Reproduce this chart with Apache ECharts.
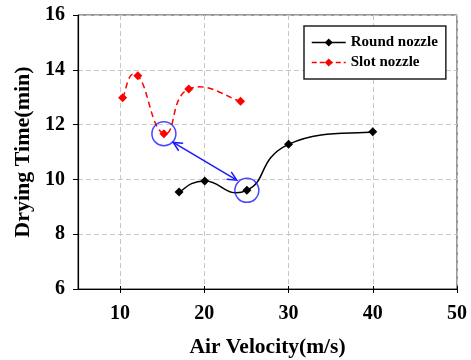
<!DOCTYPE html>
<html>
<head>
<meta charset="utf-8">
<script src="https://cdn.jsdelivr.net/npm/echarts@6/dist/echarts.min.js"></script>
<style>html,body{margin:0;padding:0;background:#fff}#c{width:471px;height:360px}</style>
</head>
<body>
<div id="c"></div>
<script>
// Data
var roundX = [17.0, 20.05, 25.05, 30.0, 40.0];
var roundY = [9.54, 9.94, 9.60, 11.28, 11.74];
var slotX = [10.3, 12.1, 15.2, 18.15, 24.3];
var slotY = [12.98, 13.78, 11.67, 13.30, 12.85];
var highlightX = [15.2, 25.05];
var highlightY = [11.67, 9.60];
var arrowFrom = [16.3, 11.35];
var arrowTo = [23.85, 9.97];
var xTicks = [10, 20, 30, 40, 50];
var seriesNames = ['Round nozzle', 'Slot nozzle'];

var FONT = "'Liberation Serif', 'Times New Roman', serif";
var TENSION = 0.25;
function pairs(xs, ys) { return xs.map(function (x, i) { return [x, ys[i]]; }); }

// smooth curve (cardinal spline as Bezier) through the data, positioned by the axes
function curveSeries(xs, ys, color, dash) {
  return {
    type: 'custom', data: pairs(xs, ys), z: 2, silent: true, clip: true,
    renderItem: function (params, api) {
      if (params.dataIndex !== 0) return { type: 'group', children: [] };
      var p = xs.map(function (x, i) { return api.coord([x, ys[i]]); });
      var n = p.length, d = 'M' + p[0][0] + ' ' + p[0][1];
      function tan(i) {
        var a = p[Math.max(i - 1, 0)], b = p[Math.min(i + 1, n - 1)];
        return [(b[0] - a[0]) * TENSION, (b[1] - a[1]) * TENSION];
      }
      for (var i = 0; i < n - 1; i++) {
        var t0 = tan(i), t1 = tan(i + 1);
        d += ' C' + (p[i][0] + t0[0]) + ' ' + (p[i][1] + t0[1]) + ' ' +
          (p[i + 1][0] - t1[0]) + ' ' + (p[i + 1][1] - t1[1]) + ' ' +
          p[i + 1][0] + ' ' + p[i + 1][1];
      }
      return { type: 'path', shape: { pathData: d }, style: { fill: null, stroke: color, lineWidth: 1.5, lineDash: dash } };
    }
  };
}

var chart = echarts.init(document.getElementById('c'), null, { renderer: 'canvas' });
chart.setOption({
  animation: false,
  backgroundColor: '#fff',
  grid: { left: 78, right: 14, top: 15, bottom: 71, outerBoundsMode: 'none', containLabel: false, show: true, borderColor: '#333', borderWidth: 1, backgroundColor: 'transparent' },
  legend: {
    data: [
      { name: seriesNames[0], lineStyle: { color: '#000', width: 1.5, opacity: 1, type: 'solid' } },
      { name: seriesNames[1], lineStyle: { color: '#ff0000', width: 1.5, opacity: 1, type: [5, 3] } }
    ],
    orient: 'vertical',
    left: 304, top: 26,
    itemWidth: 34, itemHeight: 10, itemGap: 5,
    padding: [9, 8, 9, 7],
    borderColor: '#222', borderWidth: 1.5,
    backgroundColor: '#fff',
    textStyle: { fontFamily: FONT, fontWeight: 'bold', fontSize: 15, color: '#000' }
  },
  xAxis: [{
    type: 'value', min: 5, max: 50, position: 'bottom',
    name: 'Air Velocity(m/s)', nameLocation: 'middle', nameGap: 47,
    nameTextStyle: { fontFamily: FONT, fontWeight: 'bold', fontSize: 21.5, color: '#000' },
    axisLine: { lineStyle: { color: '#000', width: 1.2 } },
    axisTick: { show: true, length: 4, inside: false, customValues: xTicks, lineStyle: { color: '#000' } },
    axisLabel: { customValues: xTicks, margin: 15, fontFamily: FONT, fontWeight: 'bold', fontSize: 20, color: '#000' },
    splitLine: { show: true, lineStyle: { color: '#c8c8c8', type: [5, 3], width: 1 } }
  }, {
    type: 'value', min: 5, max: 50, position: 'top', offset: -274,
    axisLine: { show: false },
    axisTick: { show: true, length: 3, inside: false, customValues: xTicks, lineStyle: { color: '#000' } },
    axisLabel: { show: false },
    splitLine: { show: false }
  }],
  yAxis: {
    type: 'value', min: 6, max: 16, interval: 2,
    name: 'Drying Time(min)', nameLocation: 'middle', nameGap: 38,
    nameTextStyle: { fontFamily: FONT, fontWeight: 'bold', fontSize: 22, color: '#000' },
    axisLine: { show: true, lineStyle: { color: '#000', width: 1.2 } },
    axisTick: { show: true, length: 5, lineStyle: { color: '#000' } },
    axisLabel: { margin: 13, fontFamily: FONT, fontWeight: 'bold', fontSize: 20, color: '#000' },
    splitLine: { show: true, lineStyle: { color: '#c8c8c8', type: [5, 3], width: 1 } }
  },
  series: [
    curveSeries(roundX, roundY, '#000', null),
    curveSeries(slotX, slotY, '#ff0000', [6, 4]),
    {
      name: seriesNames[0], type: 'line', data: pairs(roundX, roundY),
      symbol: 'diamond', symbolSize: 9, showAllSymbol: true,
      lineStyle: { color: '#000', width: 1.5, opacity: 0 }, itemStyle: { color: '#000' }, z: 3
    },
    {
      name: seriesNames[1], type: 'line', data: pairs(slotX, slotY),
      symbol: 'diamond', symbolSize: 9, showAllSymbol: true,
      lineStyle: { color: '#ff0000', width: 1.5, type: [6, 4], opacity: 0 }, itemStyle: { color: '#ff0000' }, z: 3
    },
    {
      name: 'highlight', type: 'scatter', data: pairs(highlightX, highlightY),
      symbol: 'circle', symbolSize: 24,
      itemStyle: { color: 'rgba(0,0,0,0)', borderColor: '#1a1aff', borderWidth: 1.5 }, z: 4, silent: true
    },
    {
      name: 'arrow', type: 'custom', data: [[arrowFrom[0], arrowFrom[1], arrowTo[0], arrowTo[1]]],
      z: 4, silent: true,
      renderItem: function (params, api) {
        var a = api.coord([api.value(0), api.value(1)]);
        var b = api.coord([api.value(2), api.value(3)]);
        var ang = Math.atan2(b[1] - a[1], b[0] - a[0]);
        var L = 10, w = 0.45;
        function head(p, dir) {
          return [
            [p[0] - dir * L * Math.cos(ang - w), p[1] - dir * L * Math.sin(ang - w)],
            p,
            [p[0] - dir * L * Math.cos(ang + w), p[1] - dir * L * Math.sin(ang + w)]
          ];
        }
        var st = { stroke: '#1a1aff', lineWidth: 1.5, fill: null };
        return {
          type: 'group', children: [
            { type: 'line', shape: { x1: a[0], y1: a[1], x2: b[0], y2: b[1] }, style: st },
            { type: 'polyline', shape: { points: head(b, 1) }, style: st },
            { type: 'polyline', shape: { points: head(a, -1) }, style: st }
          ]
        };
      }
    }
  ]
});
</script>
</body>
</html>
